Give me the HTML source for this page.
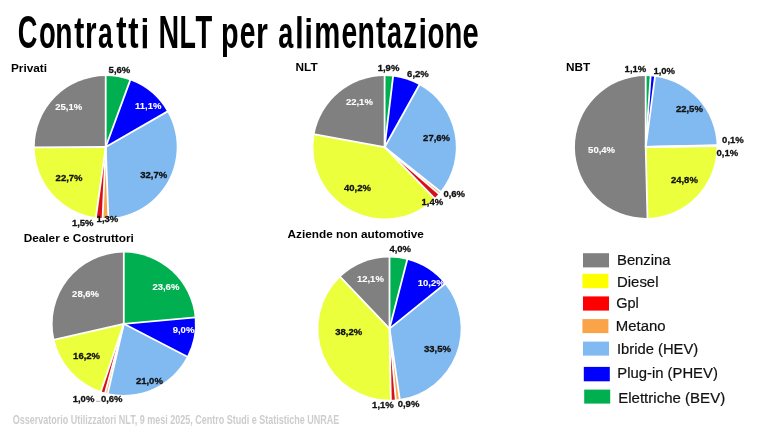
<!DOCTYPE html>
<html><head><meta charset="utf-8"><style>
html,body{margin:0;padding:0;background:#fff;}
body{width:768px;height:432px;overflow:hidden;}
svg{display:block;font-family:"Liberation Sans",sans-serif;filter:blur(0.5px);}
</style></head><body>
<svg width="768" height="432" viewBox="0 0 768 432">
<rect width="768" height="432" fill="#ffffff"/>
<path d="M105.70,147.00L105.70,76.00A71.00,71.00 0 0 1 130.17,80.35Z" fill="#00b050"/>
<path d="M105.70,147.00L130.17,80.35A71.00,71.00 0 0 1 167.26,111.63Z" fill="#0000ff"/>
<path d="M105.70,147.00L167.26,111.63A71.00,71.00 0 0 1 108.38,217.95Z" fill="#80baf0"/>
<path d="M105.70,147.00L108.38,217.95A71.00,71.00 0 0 1 102.58,217.93Z" fill="#f9a94b"/>
<path d="M105.70,147.00L102.58,217.93A71.00,71.00 0 0 1 95.92,217.32Z" fill="#d8101a"/>
<path d="M105.70,147.00L95.92,217.32A71.00,71.00 0 0 1 34.70,147.45Z" fill="#ebff3d"/>
<path d="M105.70,147.00L34.70,147.45A71.00,71.00 0 0 1 105.70,76.00Z" fill="#808080"/>
<line x1="105.70" y1="147.00" x2="105.70" y2="75.00" stroke="#fff" stroke-width="1.8"/>
<line x1="105.70" y1="147.00" x2="130.51" y2="79.41" stroke="#fff" stroke-width="1.8"/>
<line x1="105.70" y1="147.00" x2="168.13" y2="111.13" stroke="#fff" stroke-width="1.8"/>
<line x1="105.70" y1="147.00" x2="108.41" y2="218.95" stroke="#fff" stroke-width="1.8"/>
<line x1="105.70" y1="147.00" x2="102.53" y2="218.93" stroke="#fff" stroke-width="1.8"/>
<line x1="105.70" y1="147.00" x2="95.78" y2="218.31" stroke="#fff" stroke-width="1.8"/>
<line x1="105.70" y1="147.00" x2="33.70" y2="147.45" stroke="#fff" stroke-width="1.8"/>
<path d="M384.60,147.20L384.60,75.90A71.30,71.30 0 0 1 393.09,76.41Z" fill="#00b050"/>
<path d="M384.60,147.20L393.09,76.41A71.30,71.30 0 0 1 419.34,84.94Z" fill="#0000ff"/>
<path d="M384.60,147.20L419.34,84.94A71.30,71.30 0 0 1 440.38,191.60Z" fill="#80baf0"/>
<path d="M384.60,147.20L440.38,191.60A71.30,71.30 0 0 1 438.67,193.68Z" fill="#f9a94b"/>
<path d="M384.60,147.20L438.67,193.68A71.30,71.30 0 0 1 434.38,198.25Z" fill="#d8101a"/>
<path d="M384.60,147.20L434.38,198.25A71.30,71.30 0 0 1 314.48,134.28Z" fill="#ebff3d"/>
<path d="M384.60,147.20L314.48,134.28A71.30,71.30 0 0 1 384.60,75.90Z" fill="#808080"/>
<line x1="384.60" y1="147.20" x2="384.60" y2="74.90" stroke="#fff" stroke-width="1.8"/>
<line x1="384.60" y1="147.20" x2="393.21" y2="75.41" stroke="#fff" stroke-width="1.8"/>
<line x1="384.60" y1="147.20" x2="419.83" y2="84.06" stroke="#fff" stroke-width="1.8"/>
<line x1="384.60" y1="147.20" x2="441.17" y2="192.23" stroke="#fff" stroke-width="1.8"/>
<line x1="384.60" y1="147.20" x2="439.43" y2="194.33" stroke="#fff" stroke-width="1.8"/>
<line x1="384.60" y1="147.20" x2="435.08" y2="198.96" stroke="#fff" stroke-width="1.8"/>
<line x1="384.60" y1="147.20" x2="313.50" y2="134.10" stroke="#fff" stroke-width="1.8"/>
<path d="M645.70,147.00L645.70,76.10A70.90,70.90 0 0 1 650.60,76.27Z" fill="#00b050"/>
<path d="M645.70,147.00L650.60,76.27A70.90,70.90 0 0 1 655.03,76.72Z" fill="#0000ff"/>
<path d="M645.70,147.00L655.03,76.72A70.90,70.90 0 0 1 716.58,145.22Z" fill="#80baf0"/>
<path d="M645.70,147.00L716.58,145.22A70.90,70.90 0 0 1 716.59,145.66Z" fill="#f9a94b"/>
<path d="M645.70,147.00L716.59,145.66A70.90,70.90 0 0 1 716.59,146.11Z" fill="#d8101a"/>
<path d="M645.70,147.00L716.59,146.11A70.90,70.90 0 0 1 647.48,217.88Z" fill="#ebff3d"/>
<path d="M645.70,147.00L647.48,217.88A70.90,70.90 0 1 1 645.70,76.10Z" fill="#808080"/>
<line x1="645.70" y1="147.00" x2="645.70" y2="75.10" stroke="#fff" stroke-width="1.8"/>
<line x1="645.70" y1="147.00" x2="650.67" y2="75.27" stroke="#fff" stroke-width="1.8"/>
<line x1="645.70" y1="147.00" x2="655.16" y2="75.72" stroke="#fff" stroke-width="1.8"/>
<line x1="645.70" y1="147.00" x2="717.58" y2="145.19" stroke="#fff" stroke-width="1.8"/>
<line x1="645.70" y1="147.00" x2="717.59" y2="145.64" stroke="#fff" stroke-width="1.8"/>
<line x1="645.70" y1="147.00" x2="717.59" y2="146.10" stroke="#fff" stroke-width="1.8"/>
<line x1="645.70" y1="147.00" x2="647.51" y2="218.88" stroke="#fff" stroke-width="1.8"/>
<path d="M123.80,323.80L123.80,252.60A71.20,71.20 0 0 1 194.72,317.54Z" fill="#00b050"/>
<path d="M123.80,323.80L194.72,317.54A71.20,71.20 0 0 1 187.04,356.52Z" fill="#0000ff"/>
<path d="M123.80,323.80L187.04,356.52A71.20,71.20 0 0 1 107.83,393.19Z" fill="#80baf0"/>
<path d="M123.80,323.80L107.83,393.19A71.20,71.20 0 0 1 105.23,392.54Z" fill="#f9a94b"/>
<path d="M123.80,323.80L105.23,392.54A71.20,71.20 0 0 1 100.95,391.23Z" fill="#d8101a"/>
<path d="M123.80,323.80L100.95,391.23A71.20,71.20 0 0 1 54.41,339.77Z" fill="#ebff3d"/>
<path d="M123.80,323.80L54.41,339.77A71.20,71.20 0 0 1 123.80,252.60Z" fill="#808080"/>
<line x1="123.80" y1="323.80" x2="123.80" y2="251.60" stroke="#fff" stroke-width="1.8"/>
<line x1="123.80" y1="323.80" x2="195.72" y2="317.46" stroke="#fff" stroke-width="1.8"/>
<line x1="123.80" y1="323.80" x2="187.92" y2="356.98" stroke="#fff" stroke-width="1.8"/>
<line x1="123.80" y1="323.80" x2="107.61" y2="394.16" stroke="#fff" stroke-width="1.8"/>
<line x1="123.80" y1="323.80" x2="104.97" y2="393.50" stroke="#fff" stroke-width="1.8"/>
<line x1="123.80" y1="323.80" x2="100.63" y2="392.18" stroke="#fff" stroke-width="1.8"/>
<line x1="123.80" y1="323.80" x2="53.44" y2="339.99" stroke="#fff" stroke-width="1.8"/>
<path d="M389.50,328.60L389.50,257.40A71.20,71.20 0 0 1 407.21,259.64Z" fill="#00b050"/>
<path d="M389.50,328.60L407.21,259.64A71.20,71.20 0 0 1 444.93,283.91Z" fill="#0000ff"/>
<path d="M389.50,328.60L444.93,283.91A71.20,71.20 0 0 1 399.75,399.06Z" fill="#80baf0"/>
<path d="M389.50,328.60L399.75,399.06A71.20,71.20 0 0 1 395.76,399.52Z" fill="#f9a94b"/>
<path d="M389.50,328.60L395.76,399.52A71.20,71.20 0 0 1 390.84,399.79Z" fill="#d8101a"/>
<path d="M389.50,328.60L390.84,399.79A71.20,71.20 0 0 1 340.44,277.00Z" fill="#ebff3d"/>
<path d="M389.50,328.60L340.44,277.00A71.20,71.20 0 0 1 389.50,257.40Z" fill="#808080"/>
<line x1="389.50" y1="328.60" x2="389.50" y2="256.40" stroke="#fff" stroke-width="1.8"/>
<line x1="389.50" y1="328.60" x2="407.46" y2="258.67" stroke="#fff" stroke-width="1.8"/>
<line x1="389.50" y1="328.60" x2="445.70" y2="283.28" stroke="#fff" stroke-width="1.8"/>
<line x1="389.50" y1="328.60" x2="399.90" y2="400.05" stroke="#fff" stroke-width="1.8"/>
<line x1="389.50" y1="328.60" x2="395.84" y2="400.52" stroke="#fff" stroke-width="1.8"/>
<line x1="389.50" y1="328.60" x2="390.86" y2="400.79" stroke="#fff" stroke-width="1.8"/>
<line x1="389.50" y1="328.60" x2="339.75" y2="276.28" stroke="#fff" stroke-width="1.8"/>
<text x="11.0" y="71.5" font-size="11.8" font-weight="bold" fill="#000">Privati</text>
<text x="295.6" y="70.8" font-size="11.8" font-weight="bold" fill="#000">NLT</text>
<text x="566.0" y="70.6" font-size="11.8" font-weight="bold" fill="#000">NBT</text>
<text x="23.7" y="242.3" font-size="11.8" font-weight="bold" fill="#000">Dealer e Costruttori</text>
<text x="287.6" y="238.4" font-size="11.8" font-weight="bold" fill="#000">Aziende non automotive</text>
<text transform="translate(108.60,73.3) scale(1,1.0)" font-size="9.5" font-weight="bold" fill="#111111" stroke="#111111" stroke-width="0.3">5,6%</text>
<text transform="translate(135.00,108.6) scale(1,1.0)" font-size="9.5" font-weight="bold" fill="#ffffff" stroke="#ffffff" stroke-width="0.1">11,1%</text>
<text transform="translate(140.20,177.5) scale(1,1.0)" font-size="9.5" font-weight="bold" fill="#111111" stroke="#111111" stroke-width="0.3">32,7%</text>
<text transform="translate(96.60,221.9) scale(1,1.0)" font-size="9.5" font-weight="bold" fill="#111111" stroke="#111111" stroke-width="0.3">1,3%</text>
<text transform="translate(71.90,226.3) scale(1,1.0)" font-size="9.5" font-weight="bold" fill="#111111" stroke="#111111" stroke-width="0.3">1,5%</text>
<text transform="translate(55.60,180.6) scale(1,1.0)" font-size="9.5" font-weight="bold" fill="#111111" stroke="#111111" stroke-width="0.3">22,7%</text>
<text transform="translate(55.20,110.4) scale(1,1.0)" font-size="9.5" font-weight="bold" fill="#ffffff" stroke="#ffffff" stroke-width="0.1">25,1%</text>
<text transform="translate(377.70,70.5) scale(1,1.0)" font-size="9.5" font-weight="bold" fill="#111111" stroke="#111111" stroke-width="0.3">1,9%</text>
<text transform="translate(407.10,77.4) scale(1,1.0)" font-size="9.5" font-weight="bold" fill="#111111" stroke="#111111" stroke-width="0.3">6,2%</text>
<text transform="translate(423.10,141.0) scale(1,1.0)" font-size="9.5" font-weight="bold" fill="#111111" stroke="#111111" stroke-width="0.3">27,6%</text>
<text transform="translate(443.40,196.5) scale(1,1.0)" font-size="9.5" font-weight="bold" fill="#111111" stroke="#111111" stroke-width="0.3">0,6%</text>
<text transform="translate(421.50,205.3) scale(1,1.0)" font-size="9.5" font-weight="bold" fill="#111111" stroke="#111111" stroke-width="0.3">1,4%</text>
<text transform="translate(344.00,191.3) scale(1,1.0)" font-size="9.5" font-weight="bold" fill="#111111" stroke="#111111" stroke-width="0.3">40,2%</text>
<text transform="translate(345.90,105.0) scale(1,1.0)" font-size="9.5" font-weight="bold" fill="#ffffff" stroke="#ffffff" stroke-width="0.1">22,1%</text>
<text transform="translate(624.60,72.0) scale(1,1.0)" font-size="9.5" font-weight="bold" fill="#111111" stroke="#111111" stroke-width="0.3">1,1%</text>
<text transform="translate(653.40,73.9) scale(1,1.0)" font-size="9.5" font-weight="bold" fill="#111111" stroke="#111111" stroke-width="0.3">1,0%</text>
<text transform="translate(675.90,111.9) scale(1,1.0)" font-size="9.5" font-weight="bold" fill="#111111" stroke="#111111" stroke-width="0.3">22,5%</text>
<text transform="translate(722.10,142.9) scale(1,1.0)" font-size="9.5" font-weight="bold" fill="#111111" stroke="#111111" stroke-width="0.3">0,1%</text>
<text transform="translate(716.50,156.3) scale(1,1.0)" font-size="9.5" font-weight="bold" fill="#111111" stroke="#111111" stroke-width="0.3">0,1%</text>
<text transform="translate(670.90,183.1) scale(1,1.0)" font-size="9.5" font-weight="bold" fill="#111111" stroke="#111111" stroke-width="0.3">24,8%</text>
<text transform="translate(588.10,153.1) scale(1,1.0)" font-size="9.5" font-weight="bold" fill="#ffffff" stroke="#ffffff" stroke-width="0.1">50,4%</text>
<text transform="translate(152.40,290.0) scale(1,1.0)" font-size="9.5" font-weight="bold" fill="#ffffff" stroke="#ffffff" stroke-width="0.1">23,6%</text>
<text transform="translate(172.70,333.1) scale(1,1.0)" font-size="9.5" font-weight="bold" fill="#ffffff" stroke="#ffffff" stroke-width="0.1">9,0%</text>
<text transform="translate(135.90,384.0) scale(1,1.0)" font-size="9.5" font-weight="bold" fill="#111111" stroke="#111111" stroke-width="0.3">21,0%</text>
<text transform="translate(100.90,401.7) scale(1,1.0)" font-size="9.5" font-weight="bold" fill="#111111" stroke="#111111" stroke-width="0.3">0,6%</text>
<text transform="translate(72.70,401.9) scale(1,1.0)" font-size="9.5" font-weight="bold" fill="#111111" stroke="#111111" stroke-width="0.3">1,0%</text>
<text transform="translate(73.10,359.4) scale(1,1.0)" font-size="9.5" font-weight="bold" fill="#111111" stroke="#111111" stroke-width="0.3">16,2%</text>
<text transform="translate(72.10,296.5) scale(1,1.0)" font-size="9.5" font-weight="bold" fill="#ffffff" stroke="#ffffff" stroke-width="0.1">28,6%</text>
<text transform="translate(389.40,252.0) scale(1,1.0)" font-size="9.5" font-weight="bold" fill="#111111" stroke="#111111" stroke-width="0.3">4,0%</text>
<text transform="translate(417.70,285.6) scale(1,1.0)" font-size="9.5" font-weight="bold" fill="#ffffff" stroke="#ffffff" stroke-width="0.1">10,2%</text>
<text transform="translate(424.00,351.9) scale(1,1.0)" font-size="9.5" font-weight="bold" fill="#111111" stroke="#111111" stroke-width="0.3">33,5%</text>
<text transform="translate(397.70,407.3) scale(1,1.0)" font-size="9.5" font-weight="bold" fill="#111111" stroke="#111111" stroke-width="0.3">0,9%</text>
<text transform="translate(372.10,407.5) scale(1,1.0)" font-size="9.5" font-weight="bold" fill="#111111" stroke="#111111" stroke-width="0.3">1,1%</text>
<text transform="translate(335.20,335.0) scale(1,1.0)" font-size="9.5" font-weight="bold" fill="#111111" stroke="#111111" stroke-width="0.3">38,2%</text>
<text transform="translate(356.90,281.9) scale(1,1.0)" font-size="9.5" font-weight="bold" fill="#ffffff" stroke="#ffffff" stroke-width="0.1">12,1%</text>
<rect x="583.0" y="253.2" width="26.0" height="14.2" fill="#808080"/>
<text transform="translate(617.0,265.0) scale(1.022,1)" font-size="14.5" fill="#111" stroke="#111" stroke-width="0.2">Benzina</text>
<rect x="582.4" y="273.8" width="26.0" height="14.4" fill="#ffff00"/>
<text transform="translate(617.0,287.0) scale(1.03,1)" font-size="14.5" fill="#111" stroke="#111" stroke-width="0.2">Diesel</text>
<rect x="583.0" y="296.4" width="26.0" height="14.2" fill="#ff0000"/>
<text transform="translate(616.2,307.8) scale(1.0,1)" font-size="14.5" fill="#111" stroke="#111" stroke-width="0.2">Gpl</text>
<rect x="582.4" y="319.1" width="26.0" height="14.0" fill="#f9a448"/>
<text transform="translate(615.8,330.8) scale(1.03,1)" font-size="14.5" fill="#111" stroke="#111" stroke-width="0.2">Metano</text>
<rect x="583.0" y="341.6" width="26.0" height="14.0" fill="#80baf0"/>
<text transform="translate(617.0,354.4) scale(1.018,1)" font-size="14.5" fill="#111" stroke="#111" stroke-width="0.2">Ibride (HEV)</text>
<rect x="583.8" y="366.9" width="26.0" height="14.4" fill="#0000ff"/>
<text transform="translate(617.3,377.7) scale(1.024,1)" font-size="14.5" fill="#111" stroke="#111" stroke-width="0.2">Plug-in (PHEV)</text>
<rect x="584.2" y="389.6" width="26.0" height="14.0" fill="#00b050"/>
<text transform="translate(618.2,402.8) scale(1.038,1)" font-size="14.5" fill="#111" stroke="#111" stroke-width="0.2">Elettriche (BEV)</text>
<text transform="translate(17.81,48.3) scale(0.5912,1.0)" font-size="46.0" font-weight="bold" fill="#000">C</text>
<text transform="translate(38.88,48.3) scale(0.5968,0.985)" font-size="46.0" font-weight="bold" fill="#000">o</text>
<text transform="translate(55.23,48.3) scale(0.6132,0.985)" font-size="46.0" font-weight="bold" fill="#000">n</text>
<text transform="translate(74.17,48.3) scale(0.6558,0.985)" font-size="46.0" font-weight="bold" fill="#000">t</text>
<text transform="translate(85.11,48.3) scale(0.6460,0.985)" font-size="46.0" font-weight="bold" fill="#000">r</text>
<text transform="translate(97.89,48.3) scale(0.5753,0.985)" font-size="46.0" font-weight="bold" fill="#000">a</text>
<text transform="translate(116.19,48.3) scale(0.6730,0.985)" font-size="46.0" font-weight="bold" fill="#000">t</text>
<text transform="translate(128.18,48.3) scale(0.6718,0.985)" font-size="46.0" font-weight="bold" fill="#000">t</text>
<rect x="142.75" y="18.0" width="4.2" height="4.1" fill="#000"/>
<rect x="142.75" y="24.9" width="4.2" height="23.40" fill="#000"/>
<text transform="translate(158.50,48.3) scale(0.6222,1.0)" font-size="46.0" font-weight="bold" fill="#000">N</text>
<text transform="translate(179.55,48.3) scale(0.5832,1.0)" font-size="46.0" font-weight="bold" fill="#000">L</text>
<text transform="translate(195.60,48.3) scale(0.5952,1.0)" font-size="46.0" font-weight="bold" fill="#000">T</text>
<text transform="translate(221.09,48.3) scale(0.6275,0.985)" font-size="46.0" font-weight="bold" fill="#000">p</text>
<text transform="translate(239.64,48.3) scale(0.6138,0.985)" font-size="46.0" font-weight="bold" fill="#000">e</text>
<text transform="translate(255.99,48.3) scale(0.6632,0.985)" font-size="46.0" font-weight="bold" fill="#000">r</text>
<text transform="translate(278.17,48.3) scale(0.5882,0.985)" font-size="46.0" font-weight="bold" fill="#000">a</text>
<rect x="297.30" y="16.1" width="4.2" height="32.20" fill="#000"/>
<rect x="306.55" y="18.0" width="4.2" height="4.1" fill="#000"/>
<rect x="306.55" y="24.9" width="4.2" height="23.40" fill="#000"/>
<text transform="translate(314.26,48.3) scale(0.6373,0.985)" font-size="46.0" font-weight="bold" fill="#000">m</text>
<text transform="translate(341.44,48.3) scale(0.6138,0.985)" font-size="46.0" font-weight="bold" fill="#000">e</text>
<text transform="translate(357.61,48.3) scale(0.6179,0.985)" font-size="46.0" font-weight="bold" fill="#000">n</text>
<text transform="translate(375.94,48.3) scale(0.6534,0.985)" font-size="46.0" font-weight="bold" fill="#000">t</text>
<text transform="translate(387.04,48.3) scale(0.5868,0.985)" font-size="46.0" font-weight="bold" fill="#000">a</text>
<text transform="translate(403.19,48.3) scale(0.6035,0.985)" font-size="46.0" font-weight="bold" fill="#000">z</text>
<rect x="420.65" y="18.0" width="4.2" height="4.1" fill="#000"/>
<rect x="420.65" y="24.9" width="4.2" height="23.40" fill="#000"/>
<text transform="translate(427.40,48.3) scale(0.6025,0.985)" font-size="46.0" font-weight="bold" fill="#000">o</text>
<text transform="translate(444.44,48.3) scale(0.6368,0.985)" font-size="46.0" font-weight="bold" fill="#000">n</text>
<text transform="translate(462.57,48.3) scale(0.6313,0.985)" font-size="46.0" font-weight="bold" fill="#000">e</text>
<text transform="translate(12.74,423.6) scale(0.6675,1)" font-size="13.5" font-weight="bold" fill="#cdcdcd">Osservatorio Utilizzatori NLT, 9 mesi 2025, Centro Studi e Statistiche UNRAE</text>
<line x1="96" y1="401.3" x2="100.5" y2="401.3" stroke="#9a9a9a" stroke-width="0.8"/>
</svg>
</body></html>
